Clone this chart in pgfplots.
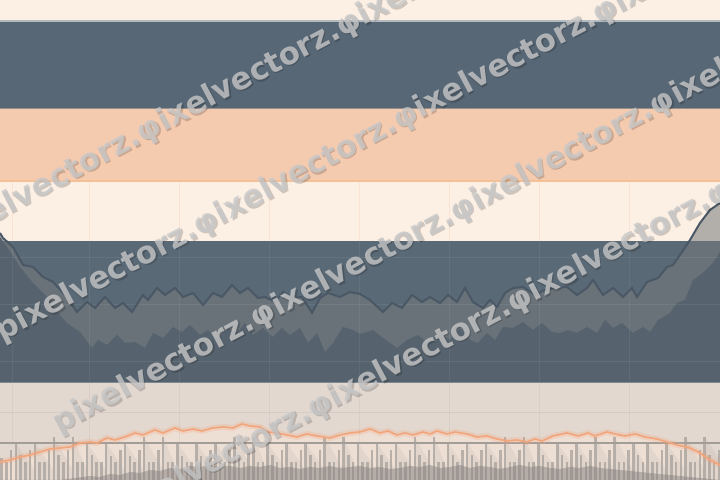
\documentclass[border=0pt]{standalone}
\usepackage{pgfplots}
\pgfplotsset{compat=1.18}
\usepackage{fontspec}
\newfontfamily\wmfont{DejaVu Sans}

\definecolor{cream}{HTML}{FCF0E5}
\definecolor{slate}{HTML}{576775}
\definecolor{peach}{HTML}{F5CBB0}
\definecolor{slatemid}{HTML}{5A6976}
\definecolor{areagray}{HTML}{777A7C}
\definecolor{areadark}{HTML}{56636E}
\definecolor{lineslate}{HTML}{4A5866}
\definecolor{beige}{HTML}{E3D8D0}
\definecolor{beigelight}{HTML}{EEDFD5}
\definecolor{orangeline}{HTML}{F2A47A}
\definecolor{bargray}{HTML}{A39D99}
\definecolor{axisgray}{HTML}{A39D98}
\definecolor{wmtext}{HTML}{C8C8C8}

% one pixel of the reference = 0.5pt, y counted from the bottom edge
\begin{document}
\begin{tikzpicture}
\useasboundingbox (0,0) rectangle (360pt,240pt);
\clip (0,0) rectangle (360pt,240pt);
\begin{axis}[
    at={(0,0)}, anchor=south west,
    width=360pt, height=240pt, scale only axis,
    xmin=0, xmax=720, ymin=0, ymax=480,
    hide axis, clip=true,
  ]
  % bands, painted from the top down
  \addplot[draw=none, fill=cream] coordinates {(0,480) (720,480)} \closedcycle;
  \addplot[draw=none, fill=slate] coordinates {(0,459) (720,459)} \closedcycle;
  \addplot[draw=none, fill=peach] coordinates {(0,371) (720,371)} \closedcycle;
  \addplot[draw=none, fill=cream] coordinates {(0,299) (720,299)} \closedcycle;
  \foreach \gx in {13,90,180,270,360,450,540,630} {
    \edef\temp{\noexpand\draw[color=peach!35!cream, line width=0.5pt] (axis cs:\gx,239) -- (axis cs:\gx,299);}
    \temp
  }
  \addplot[draw=none, fill=slatemid] coordinates {(0,239) (720,239)} \closedcycle;

  % upper range (semi transparent)
  \addplot[draw=none, fill=areagray, fill opacity=0.55] coordinates {
    (0,247) (3,242) (13,233) (23,215) (33,213) (43,203) (53,198) (65,185)
    (77,168) (87,178) (95,172) (105,183) (115,172) (123,177) (132,168)
    (143,185) (148,180) (157,192) (165,185) (175,192) (183,183) (193,187)
    (203,175) (213,187) (222,183) (232,195) (240,187) (248,192) (258,182)
    (265,183) (275,178) (283,188) (293,182) (302,183) (312,167) (320,182)
    (328,187) (340,183) (350,188) (360,186) (370,180) (383,168) (392,177)
    (402,172) (412,185) (422,178) (430,183) (440,177) (448,185) (457,178)
    (465,192) (473,178) (483,172) (490,180) (497,173) (505,187) (513,192)
    (523,193) (535,185) (545,190) (555,192) (567,193) (577,185) (587,192)
    (593,200) (603,185) (613,192) (623,183) (632,192) (637,183) (647,198)
    (658,202) (667,213) (673,215) (682,228) (690,240) (700,257) (710,270)
    (720,277)
  } \closedcycle;
  % lower range
  \addplot[draw=none, fill=areadark] coordinates {
    (0,243) (7,233) (20,213) (33,197) (47,183) (58,167) (67,157) (80,148)
    (92,132) (98,140) (107,135) (117,145) (125,137) (135,138) (145,132)
    (153,147) (163,142) (173,153) (182,148) (190,155) (200,145) (208,150)
    (217,140) (227,152) (237,147) (245,157) (253,145) (263,152) (273,143)
    (282,152) (290,145) (300,152) (308,137) (317,147) (325,128) (333,137)
    (343,153) (353,150) (360,146) (373,150) (383,142) (397,132) (407,140)
    (418,145) (428,137) (440,147) (450,140) (460,152) (470,140) (478,137)
    (487,147) (495,140) (503,153) (513,152) (523,158) (533,150) (542,157)
    (552,148) (560,147) (568,150) (577,147) (587,153) (597,147) (605,160)
    (613,152) (622,157) (633,147) (643,153) (650,148) (658,160) (670,167)
    (677,177) (685,180) (693,200) (703,207) (713,217) (720,228)
  } \closedcycle;
  % faint grid over the dark band
  \foreach \gy in {118,175,222} {
    \edef\temp{\noexpand\draw[white, opacity=0.07, line width=0.5pt] (axis cs:0,\gy) -- (axis cs:720,\gy);}
    \temp
  }
  \foreach \gx in {13,90,180,270,360,450,540,630} {
    \edef\temp{\noexpand\draw[white, opacity=0.06, line width=0.5pt] (axis cs:\gx,97) -- (axis cs:\gx,239);}
    \temp
  }
  % upper line
  \addplot[lineslate, line width=1pt] coordinates {
    (0,247) (3,242) (13,233) (23,215) (33,213) (43,203) (53,198) (65,185)
    (77,168) (87,178) (95,172) (105,183) (115,172) (123,177) (132,168)
    (143,185) (148,180) (157,192) (165,185) (175,192) (183,183) (193,187)
    (203,175) (213,187) (222,183) (232,195) (240,187) (248,192) (258,182)
    (265,183) (275,178) (283,188) (293,182) (302,183) (312,167) (320,182)
    (328,187) (340,183) (350,188) (360,186) (370,180) (383,168) (392,177)
    (402,172) (412,185) (422,178) (430,183) (440,177) (448,185) (457,178)
    (465,192) (473,178) (483,172) (490,180) (497,173) (505,187) (513,192)
    (523,193) (535,185) (545,190) (555,192) (567,193) (577,185) (587,192)
    (593,200) (603,185) (613,192) (623,183) (632,192) (637,183) (647,198)
    (658,202) (667,213) (673,215) (682,228) (690,240) (700,257) (710,270)
    (720,277)
  };

  % bottom band
  \addplot[draw=none, fill=beige] coordinates {(0,97) (720,97)} \closedcycle;
  \addplot[draw=none, fill=beigelight] coordinates {
    (0,18) (10,20) (20,23) (30,25) (40,28) (50,31) (60,32) (70,33) (80,37)
    (90,38) (97,37) (107,42) (115,40) (125,43) (135,47) (143,45) (155,50)
    (163,47) (175,52) (183,49) (193,51) (202,49) (213,52) (223,53) (233,52)
    (242,56) (250,54) (260,53) (268,48) (277,47) (287,45) (297,43) (307,46)
    (317,44) (330,42) (340,45) (350,47) (360,48) (370,51) (380,47) (388,49)
    (397,45) (405,47) (413,45) (423,48) (430,46) (437,49) (447,46) (455,48)
    (467,46) (477,43) (487,44) (497,41) (507,39) (517,40) (527,38) (535,41)
    (542,39) (553,44) (567,47) (578,44) (588,47) (595,44) (607,48) (615,46)
    (625,44) (635,46) (645,43) (657,41) (667,38) (677,35) (690,32) (700,27)
    (710,20) (720,15)
  } \closedcycle;
  \draw[color=beige!85!black, opacity=0.35, line width=0.5pt] (axis cs:0,67) -- (axis cs:720,67);
  \foreach \gx in {13,90,180,270,360,450,540,630} {
    \edef\temp{\noexpand\draw[color=beige!85!black, opacity=0.25, line width=0.5pt] (axis cs:\gx,37) -- (axis cs:\gx,97);}
    \temp
  }
  \draw[color=axisgray, line width=0.6pt] (axis cs:0,37) -- (axis cs:720,37);

  % shading that falls from the tall bars
  \addplot[draw=none, fill=bargray, fill opacity=0.15] coordinates {
    (16.0,37) (34.5,10) (35.0,37) (53.5,10) (54.0,43) (72.5,10) (73.0,43)
    (86.7,10) (87.2,37) (105.7,10) (106.2,37) (124.7,10) (125.2,37)
    (143.7,10) (144.2,43) (162.7,10) (163.2,43) (177,10) (177.5,37)
    (196,10) (196.5,37) (215,10) (215.5,37) (234,10) (234.5,43) (253,10)
    (253.5,43) (267.2,10) (267.7,37) (286.2,10) (286.7,37) (305.2,10)
    (305.7,37) (324.2,10) (324.7,43) (343.2,10) (343.7,43) (357.5,10)
    (358,37) (376.5,10) (377,37) (395.5,10) (396,37) (414.5,10) (415,43)
    (433.5,10) (434,43) (447.7,10) (448.2,37) (466.7,10) (467.2,37)
    (485.7,10) (486.2,37) (504.7,10) (505.2,43) (523.7,10) (524.2,43)
    (538,10) (538.5,37) (557,10) (557.5,37) (576,10) (576.5,37) (595,10)
    (595.5,43) (614,10) (614.5,43) (633,10) (633.5,37) (647.2,10)
    (647.7,37) (666.2,10) (666.7,37) (685.2,10) (685.7,43) (704.2,10)
    (704.7,43) (720,20)
  } \closedcycle;
  % bars
  \addplot[ycomb, color=bargray, opacity=0.7, line width=1.25pt, mark=none] coordinates {
    (1.7,22) (6.5,18) (11.2,30)
    (16.0,37) (20.7,25) (25.5,18) (30.2,30)
    (35.0,37) (39.7,18) (44.5,18) (49.2,30)
    (54.0,43) (58.7,25) (63.5,18) (68.2,30)
    (73.0,43) (77.7,18) (82.5,18)
    (87.2,37) (92.0,25) (96.7,18) (101.5,18)
    (106.2,37) (111.0,24) (115.7,18) (120.5,30)
    (125.2,37) (130.0,24) (134.7,18) (139.5,30)
    (144.2,43) (149.0,18) (153.7,18) (158.5,30)
    (163.2,43) (168.0,18) (172.7,18)
    (177.5,37) (182.2,24) (187.0,18) (191.7,18)
    (196.5,37) (201.2,24) (206.0,18) (210.7,30)
    (215.5,37) (220.2,18) (225.0,18) (229.7,30)
    (234.5,43) (239.2,25) (244.0,18) (248.7,30)
    (253.5,43) (258.2,18) (263.0,18)
    (267.7,37) (272.5,25) (277.2,18) (282.0,30)
    (286.7,37) (291.5,18) (296.2,18) (301.0,30)
    (305.7,37) (310.5,25) (315.2,18) (320.0,30)
    (324.7,43) (329.5,18) (334.2,18) (339.0,30)
    (343.7,43) (348.5,25) (353.2,18)
    (358.0,37) (362.7,18) (367.5,18) (372.2,30)
    (377.0,37) (381.7,25) (386.5,18) (391.2,30)
    (396.0,37) (400.7,18) (405.5,18) (410.2,30)
    (415.0,43) (419.7,25) (424.5,18) (429.2,30)
    (434.0,43) (438.7,18) (443.5,18)
    (448.2,37) (453.0,25) (457.7,18) (462.5,30)
    (467.2,37) (472.0,25) (476.7,18) (481.5,30)
    (486.2,37) (491.0,25) (495.7,18) (500.5,30)
    (505.2,43) (510.0,18) (514.7,18) (519.5,30)
    (524.2,43) (529.0,18) (533.7,18)
    (538.5,37) (543.2,25) (548.0,18) (552.7,18)
    (557.5,37) (562.2,25) (567.0,18) (571.7,30)
    (576.5,37) (581.2,25) (586.0,18) (590.7,30)
    (595.5,43) (600.2,18) (605.0,18) (609.7,30)
    (614.5,43) (619.2,18) (624.0,18) (628.7,30)
    (633.5,37) (638.2,25) (643.0,18)
    (647.7,37) (652.5,18) (657.2,18) (662.0,30)
    (666.7,37) (671.5,25) (676.2,18) (681.0,30)
    (685.7,43) (690.5,18) (695.2,18) (700.0,30)
    (704.7,43) (709.5,25) (714.2,18) (719.0,30)
  };
  % dark floor
  \addplot[draw=none, fill=bargray!80!black, fill opacity=0.45] coordinates {
    (0,0) (60,0) (75,2) (90,4) (100,3) (110,6) (120,5) (130,8) (140,7)
    (150,10) (160,9) (170,12) (180,11) (190,14) (200,13) (210,15) (220,13)
    (230,14) (240,12) (250,14) (260,13) (270,15) (280,12) (290,13) (300,11)
    (310,13) (320,12) (330,14) (340,12) (350,13) (360,14) (370,12) (380,13)
    (390,11) (400,12) (410,14) (420,13) (430,15) (440,12) (450,13) (460,15)
    (470,12) (480,14) (490,13) (500,11) (510,13) (520,15) (530,13) (540,14)
    (550,12) (560,11) (570,13) (580,12) (590,14) (600,12) (610,11) (620,10)
    (630,9) (640,8) (650,7) (660,6) (670,5) (680,4) (690,3) (700,2)
    (710,1) (720,0)
  } \closedcycle;
  % orange line with its glow
  \addplot[orangeline, line width=3pt, opacity=0.25] coordinates {
    (0,18) (10,20) (20,23) (30,25) (40,28) (50,31) (60,32) (70,33) (80,37)
    (90,38) (97,37) (107,42) (115,40) (125,43) (135,47) (143,45) (155,50)
    (163,47) (175,52) (183,49) (193,51) (202,49) (213,52) (223,53) (233,52)
    (242,56) (250,54) (260,53) (268,48) (277,47) (287,45) (297,43) (307,46)
    (317,44) (330,42) (340,45) (350,47) (360,48) (370,51) (380,47) (388,49)
    (397,45) (405,47) (413,45) (423,48) (430,46) (437,49) (447,46) (455,48)
    (467,46) (477,43) (487,44) (497,41) (507,39) (517,40) (527,38) (535,41)
    (542,39) (553,44) (567,47) (578,44) (588,47) (595,44) (607,48) (615,46)
    (625,44) (635,46) (645,43) (657,41) (667,38) (677,35) (690,32) (700,27)
    (710,20) (720,15)
  };
  \addplot[orangeline, line width=0.8pt] coordinates {
    (0,18) (10,20) (20,23) (30,25) (40,28) (50,31) (60,32) (70,33) (80,37)
    (90,38) (97,37) (107,42) (115,40) (125,43) (135,47) (143,45) (155,50)
    (163,47) (175,52) (183,49) (193,51) (202,49) (213,52) (223,53) (233,52)
    (242,56) (250,54) (260,53) (268,48) (277,47) (287,45) (297,43) (307,46)
    (317,44) (330,42) (340,45) (350,47) (360,48) (370,51) (380,47) (388,49)
    (397,45) (405,47) (413,45) (423,48) (430,46) (437,49) (447,46) (455,48)
    (467,46) (477,43) (487,44) (497,41) (507,39) (517,40) (527,38) (535,41)
    (542,39) (553,44) (567,47) (578,44) (588,47) (595,44) (607,48) (615,46)
    (625,44) (635,46) (645,43) (657,41) (667,38) (677,35) (690,32) (700,27)
    (710,20) (720,15)
  };

  % band edges
  \draw[color=slate!45!white, line width=0.6pt] (axis cs:0,459) -- (axis cs:720,459);
  \draw[color=peach!80!slate, opacity=0.5, line width=0.5pt] (axis cs:0,371) -- (axis cs:720,371);
  \draw[color=peach!85!orange, line width=0.7pt] (axis cs:0,299) -- (axis cs:720,299);
  \draw[color=slate!60!white, opacity=0.6, line width=0.5pt] (axis cs:0,97) -- (axis cs:720,97);

  % watermark
  \foreach \wx/\wy/\wt in {
      -59/239/{pixelvectorz.φixelvectorz.φixelvectorz.φixelvectorz.},
      -2/146/{pixelvectorz.φixelvectorz.φixelvectorz.φixelvectorz.},
      55/54/{pixelvectorz.φixelvectorz.φixelvectorz.φixelvectorz.},
      112/-37/{pixelvectorz.φixelvectorz.φixelvectorz.φixelvectorz.}} {
    \edef\temp{\noexpand\node[rotate=28, anchor=west, inner sep=0pt,
        font=\noexpand\wmfont\noexpand\bfseries\noexpand\fontsize{15.4}{18}\noexpand\selectfont,
        text=black, opacity=0.18] at (axis cs:\wx+1.5,\wy-1.5) {\wt};}
    \temp
    \edef\temp{\noexpand\node[rotate=28, anchor=west, inner sep=0pt,
        font=\noexpand\wmfont\noexpand\bfseries\noexpand\fontsize{15.4}{18}\noexpand\selectfont,
        text=wmtext, opacity=0.8] at (axis cs:\wx,\wy) {\wt};}
    \temp
  }
\end{axis}
\end{tikzpicture}
\end{document}
